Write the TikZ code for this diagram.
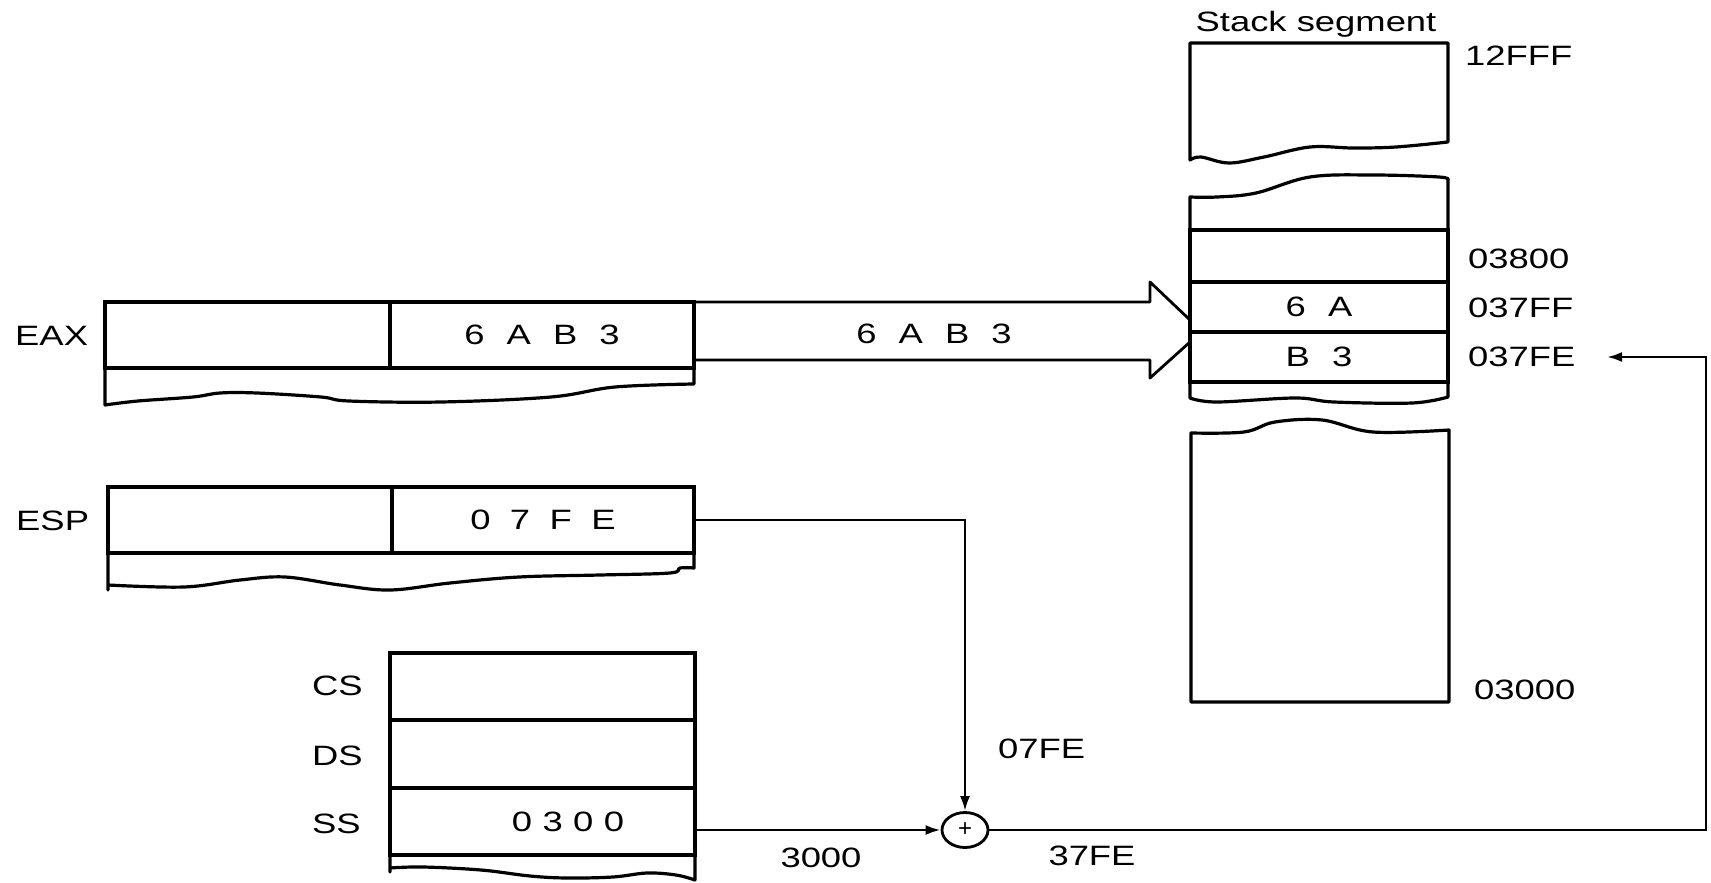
\documentclass[tikz,border=0pt]{standalone}
\usepackage{fontspec}
\setmainfont{Liberation Sans}
\usetikzlibrary{arrows.meta,shapes.geometric,calc}
\newcommand{\sx}[1]{\scalebox{1.3}[1]{#1}}
\newcommand{\gw}{\hspace{17pt}}
\newcommand{\gm}{\hspace{15pt}}
\newcommand{\gn}{\hspace{8pt}}
\newcommand{\lbf}{\fontsize{28}{32}\selectfont}
\begin{document}
\begin{tikzpicture}[x=1pt,y=-1pt,
  cellbox/.style={draw, line width=3.2pt, inner sep=0pt, outer sep=0pt, font=\lbf},
  wavy/.style={line width=3.2pt, line join=round},
  conn/.style={line width=2.6pt, -{Latex[length=15pt,width=10pt]}},
  lbl/.style={inner sep=0pt, font=\lbf}]
\fill[white] (0,0) rectangle (1711,883);
\useasboundingbox (0,0) rectangle (1711,883);

% ---------- EAX ----------
\node[lbl, anchor=west] (leax) at (15,336) {\sx{EAX}};
\node[cellbox, minimum width=285pt, minimum height=66pt] (eaxhi) at (247.5,335) {};
\node[cellbox, minimum width=304pt, minimum height=66pt] (eaxlo) at (542,335) {\sx{6\gw A\gw B\gw 3}};
\draw[wavy] (eaxhi.south west) -- plot[smooth, tension=0.6] coordinates {(105,405) (138,401) (193,397) (220,393) (257,393) (321,397) (349,401) (441,402) (551,397) (615,387) (694,384)} -- (eaxlo.south east);

% ---------- ESP ----------
\node[lbl, anchor=west] (lesp) at (16,521) {\sx{ESP}};
\node[cellbox, minimum width=284pt, minimum height=66pt] (esphi) at (250,520) {};
\node[cellbox, minimum width=302pt, minimum height=66pt] (esplo) at (543,520) {\sx{0\gm 7\gm F\gm E}};
\draw[wavy] (esphi.south west) -- (108,590) -- plot[smooth, tension=0.6] coordinates {(108,585) (184,587) (240,580) (285,577) (340,585) (390,590) (450,583) (519,577) (600,575) (670,573) (680,568) (694,568)} -- (esplo.south east);

% ---------- segment registers ----------
\node[lbl, anchor=west] (lcs) at (312,686) {\sx{CS}};
\node[lbl, anchor=west] (lds) at (312,756) {\sx{DS}};
\node[lbl, anchor=west] (lss) at (312,824) {\sx{SS}};
\node[cellbox, minimum width=305pt, minimum height=67pt] (cs) at (542.5,686.5) {};
\node[cellbox, minimum width=305pt, minimum height=68pt] (ds) at (542.5,754) {};
\node[cellbox, minimum width=305pt, minimum height=67pt] (ss) at (542.5,821.5) {};
\node[lbl] (ssval) at (568,822) {\sx{0\gn 3\gn 0\gn 0}};
\draw[wavy] (ss.south west) -- (390,872) -- plot[smooth, tension=0.6] coordinates {(390,868) (423,867) (481,870) (530,876) (567,878) (613,877) (647,873) (676,875) (695,880)} -- (ss.south east);

% ---------- stack segment ----------
\node[lbl, anchor=base] (title) at (1316,32) {\sx{Stack segment}};
\draw[wavy] plot[smooth, tension=0.6] coordinates {(1448,142) (1396,147) (1353,148) (1310,147) (1264,157) (1229,163) (1201,157) (1190,160)} -- (1190,43) -- (1448,43) -- cycle;

\node[cellbox, minimum width=258pt, minimum height=52pt] (s3800) at (1319,256) {};
\node[cellbox, minimum width=258pt, minimum height=50pt] (s37ff) at (1319,307) {\sx{6\gw A}};
\node[cellbox, minimum width=258pt, minimum height=50pt] (s37fe) at (1319,357) {\sx{B\gw 3}};
\draw[wavy] (s3800.north west) -- plot[smooth, tension=0.6] coordinates {(1190,197) (1217,197) (1256,193) (1310,177) (1373,175) (1439,177) (1448,180)} -- (s3800.north east);
\draw[wavy] (s37fe.south west) -- plot[smooth, tension=0.6] coordinates {(1190,398) (1217,402) (1295,398) (1334,402) (1412,403) (1448,397)} -- (s37fe.south east);

\draw[wavy] plot[smooth, tension=0.6] coordinates {(1191,433) (1244,432) (1275,422) (1322,420) (1373,432) (1449,430)} -- (1449,702) -- (1191,702) -- cycle;

\node[lbl, anchor=west] (a12fff) at (1465,56) {\sx{12FFF}};
\node[lbl, anchor=west] (a3800) at (1468,259) {\sx{03800}};
\node[lbl, anchor=west] (a37ff) at (1468,308) {\sx{037FF}};
\node[lbl, anchor=west] (a37fe) at (1468,357) {\sx{037FE}};
\node[lbl, anchor=west] (a3000) at (1474,690) {\sx{03000}};

% ---------- hollow transfer arrow ----------
\draw[wavy, line width=2.8pt] (eaxlo.north east) -- (1150,302) -- (1150,282) -- (1190,320);
\draw[wavy, line width=2.8pt] (694,360) -- (1150,360) -- (1150,378) -- (1190,342);
\node[lbl] (arrtxt) at (934,334) {\sx{6\gw A\gw B\gw 3}};

% ---------- adder and address path ----------
\node[draw, ellipse, line width=2.8pt, minimum width=46pt, minimum height=35pt, inner sep=0pt] (add) at (965,830) {\fontsize{24}{24}\selectfont +};
\draw[conn] (esplo.east) -| (add.north);
\draw[conn] (add.west -| ss.east) -- (add.west);
\coordinate (rx) at (1706,357);
\coordinate (tipfe) at (1607,357);
\draw[conn] (add.east) -| (rx) -- (tipfe);

\node[lbl, anchor=west] (l07fe) at (998,749) {\sx{07FE}};
\node[lbl] (l3000) at (821,858) {\sx{3000}};
\node[lbl] (l37fe) at (1092,856) {\sx{37FE}};
\end{tikzpicture}
\end{document}
